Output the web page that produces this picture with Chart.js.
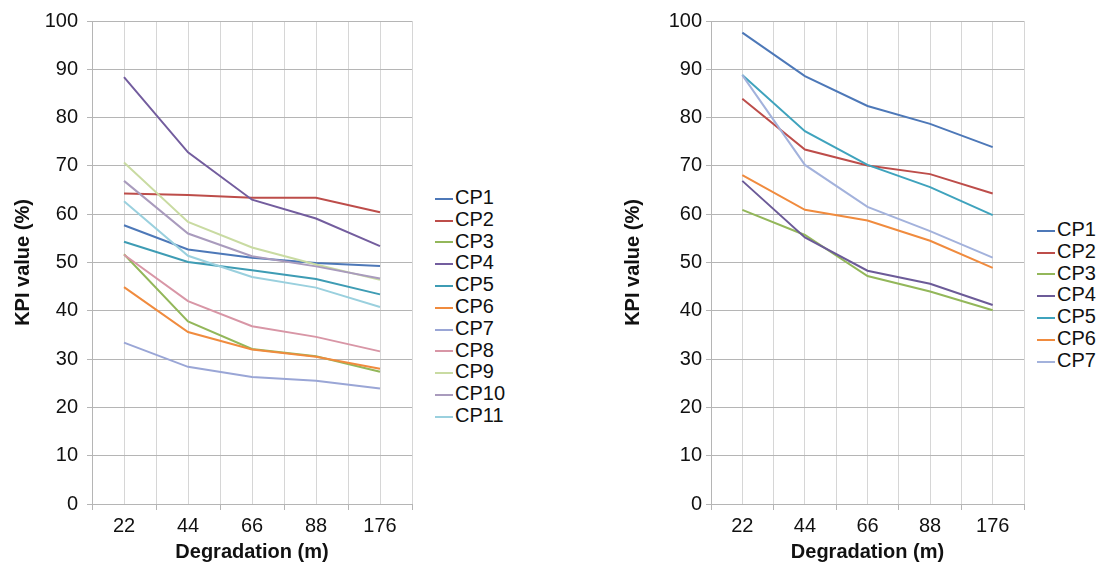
<!DOCTYPE html>
<html lang="en">
<head>
    <meta charset="UTF-8">
    <title>KPI value vs degradation</title>
    <script src="https://cdn.jsdelivr.net/npm/chart.js"></script>
    <style>
        body { margin: 0; background: #fff; font-family: "Liberation Sans", Arial, sans-serif; }
        #wrap { position: relative; width: 1105px; height: 565px; overflow: hidden; }
        .box { position: absolute; top: 0; height: 565px; }
        .legend { position: absolute; font-size: 20px; color: #111; }
        .legend div { height: 21.8px; line-height: 21.8px; white-space: nowrap; }
        .legend span { display: inline-block; width: 18px; height: 2px; margin-right: 2px; vertical-align: middle; }
    </style>
</head>
<body>
<div id="wrap">
    <div class="box" style="left:0;width:425px"><canvas id="leftChart"></canvas></div>
    <div class="box" style="left:610px;width:422px"><canvas id="rightChart"></canvas></div>
    <div class="legend" id="leftLegend" style="left:435px;top:187px"></div>
    <div class="legend" id="rightLegend" style="left:1037px;top:219px"></div>
</div>

<script>
    // x categories (degradation in m)
    const categories = ['22', '44', '66', '88', '176'];
    const yTicks = [0, 10, 20, 30, 40, 50, 60, 70, 80, 90, 100];

    // left chart, 11 series
    const leftNames = ['CP1', 'CP2', 'CP3', 'CP4', 'CP5', 'CP6', 'CP7', 'CP8', 'CP9', 'CP10', 'CP11'];
    const leftCP1  = [57.7, 52.7, 51.0, 49.9, 49.3];
    const leftCP2  = [64.3, 64.0, 63.4, 63.4, 60.4];
    const leftCP3  = [51.7, 37.8, 32.1, 30.6, 27.4];
    const leftCP4  = [88.4, 72.8, 63.0, 59.1, 53.4];
    const leftCP5  = [54.3, 50.1, 48.4, 46.6, 43.4];
    const leftCP6  = [44.9, 35.6, 32.0, 30.5, 28.0];
    const leftCP7  = [33.4, 28.4, 26.3, 25.5, 23.9];
    const leftCP8  = [51.6, 42.0, 36.8, 34.6, 31.6];
    const leftCP9  = [70.7, 58.4, 53.1, 49.6, 46.4];
    const leftCP10 = [66.9, 56.0, 51.3, 49.2, 46.7];
    const leftCP11 = [62.7, 51.4, 47.0, 44.8, 40.8];
    const leftColors = ['#4d78b8', '#bd4d4a', '#93b75a', '#735d9e', '#3e9cb4', '#f08b3e',
                        '#9aa6d6', '#d896a6', '#c9dba2', '#a99bbd', '#9ad0de'];

    // right chart, 7 series
    const rightNames = ['CP1', 'CP2', 'CP3', 'CP4', 'CP5', 'CP6', 'CP7'];
    const rightCP1 = [97.6, 88.6, 82.4, 78.7, 73.9];
    const rightCP2 = [83.9, 73.4, 70.1, 68.3, 64.3];
    const rightCP3 = [60.9, 55.7, 47.2, 44.0, 40.1];
    const rightCP4 = [66.9, 55.2, 48.3, 45.6, 41.2];
    const rightCP5 = [88.8, 77.2, 70.2, 65.6, 59.8];
    const rightCP6 = [68.1, 60.9, 58.7, 54.5, 48.9];
    const rightCP7 = [88.8, 70.2, 61.5, 56.5, 51.0];
    const rightColors = ['#4d78b8', '#bd4d4a', '#93b75a', '#6c5b98', '#3fa3bd', '#f08b3e', '#a3b2dc'];

    const leftSeries = [leftCP1, leftCP2, leftCP3, leftCP4, leftCP5, leftCP6, leftCP7, leftCP8, leftCP9, leftCP10, leftCP11];
    const rightSeries = [rightCP1, rightCP2, rightCP3, rightCP4, rightCP5, rightCP6, rightCP7];

    function makeDatasets(names, series, colors) {
        // order reversed so CP1 is drawn last (on top), like Excel does it
        return names.map((name, i) => ({
            label: name,
            data: series[i].map((v, j) => ({ x: j, y: v })),
            borderColor: colors[i],
            backgroundColor: colors[i],
            borderWidth: 2,
            pointRadius: 0,
            tension: 0,
            order: names.length - i
        }));
    }

    function makeChart(id, names, series, colors, axisWidth, tickPad, padRight) {
        const ctx = document.getElementById(id).getContext('2d');
        return new Chart(ctx, {
            type: 'line',
            data: { datasets: makeDatasets(names, series, colors) },
            options: {
                responsive: true,
                maintainAspectRatio: false,
                animation: false,
                layout: { padding: { left: 0, right: padRight, top: 21, bottom: 0 } },
                plugins: { legend: { display: false }, tooltip: { enabled: false } },
                scales: {
                    x: {
                        type: 'linear',
                        min: -0.5,
                        max: categories.length - 0.5,
                        afterBuildTicks: (scale) => {
                            const t = [];
                            for (let v = -0.5; v <= categories.length - 0.5; v += 0.5) t.push({ value: v });
                            scale.ticks = t;
                        },
                        afterFit: (scale) => { scale.height = 61; },
                        grid: {
                            color: '#d6d6d6',
                            lineWidth: 1,
                            tickLength: 6,
                            tickColor: (c) => (c.tick && Number.isInteger(c.tick.value)) ? 'rgba(0,0,0,0)' : '#b5b5b5'
                        },
                        border: { color: '#b5b5b5' },
                        ticks: {
                            autoSkip: false,
                            maxRotation: 0,
                            padding: 4,
                            color: '#111',
                            font: { family: 'Liberation Sans', size: 20 },
                            callback: (v) => Number.isInteger(v) ? categories[v] : ''
                        },
                        title: {
                            display: true,
                            text: 'Degradation (m)',
                            color: '#111',
                            padding: { top: 0, bottom: 1 },
                            font: { family: 'Liberation Sans', size: 20, weight: 'bold' }
                        }
                    },
                    y: {
                        min: 0,
                        max: 100,
                        afterBuildTicks: (scale) => { scale.ticks = yTicks.map(v => ({ value: v })); },
                        afterFit: (scale) => { scale.width = axisWidth; },
                        grid: { color: '#b5b5b5', lineWidth: 1, tickLength: 5, tickColor: '#b5b5b5' },
                        border: { color: '#b5b5b5' },
                        ticks: {
                            padding: tickPad,
                            color: '#111',
                            font: { family: 'Liberation Sans', size: 20 }
                        },
                        title: {
                            display: true,
                            text: 'KPI value (%)',
                            color: '#111',
                            padding: { top: 11, bottom: 0 },
                            font: { family: 'Liberation Sans', size: 20, weight: 'bold' }
                        }
                    }
                }
            }
        });
    }

    function makeLegend(id, names, colors) {
        const el = document.getElementById(id);
        names.forEach((name, i) => {
            const row = document.createElement('div');
            const line = document.createElement('span');
            line.style.background = colors[i];
            row.appendChild(line);
            row.appendChild(document.createTextNode(name));
            el.appendChild(row);
        });
    }

    makeChart('leftChart', leftNames, leftSeries, leftColors, 92, 9, 13);
    makeChart('rightChart', rightNames, rightSeries, rightColors, 101, 4, 8);
    makeLegend('leftLegend', leftNames, leftColors);
    makeLegend('rightLegend', rightNames, rightColors);
</script>
</body>
</html>
